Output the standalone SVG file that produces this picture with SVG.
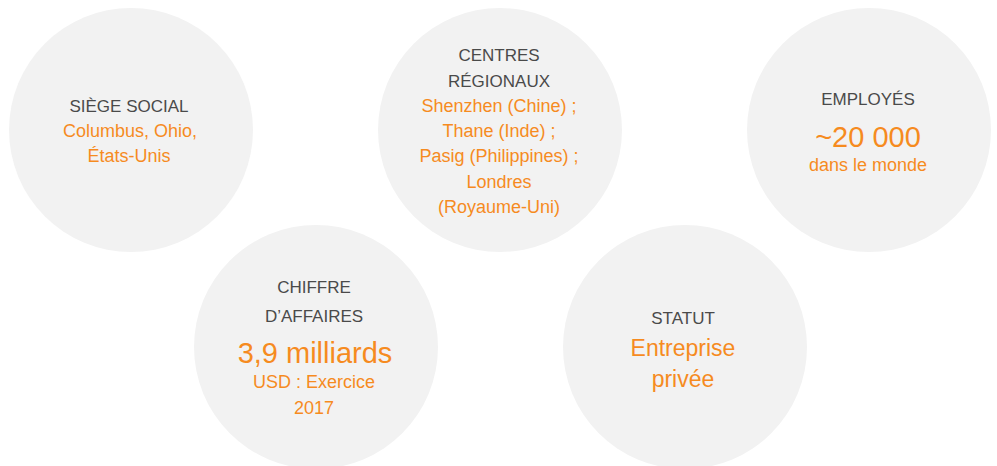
<svg xmlns="http://www.w3.org/2000/svg" width="997" height="466" viewBox="0 0 997 466">
<style>
.bg{fill:#f2f2f2}
text{font-family:"Liberation Sans",Arial,sans-serif;text-anchor:middle}
.t{fill:#4a4a4a;font-size:17px}
.o{fill:#f68b1f;font-size:18px}
.b{fill:#f68b1f;font-size:29px}
.m{fill:#f68b1f;font-size:23px}
</style>
<rect width="997" height="466" fill="#ffffff"/>
<g id="siege">
<circle class="bg" cx="131" cy="130" r="122"/>
<text class="t" x="129" y="112">SIÈGE SOCIAL</text>
<text class="o" x="130" y="137">Columbus, Ohio,</text>
<text class="o" x="129" y="162">États-Unis</text>
</g>
<g id="centres">
<circle class="bg" cx="500" cy="130" r="122"/>
<text class="t" x="499" y="61">CENTRES</text>
<text class="t" x="499" y="87">RÉGIONAUX</text>
<text class="o" x="499" y="112">Shenzhen (Chine) ;</text>
<text class="o" x="499" y="137">Thane (Inde) ;</text>
<text class="o" x="499" y="162">Pasig (Philippines) ;</text>
<text class="o" x="499" y="188">Londres</text>
<text class="o" x="499" y="213">(Royaume-Uni)</text>
</g>
<g id="employes">
<circle class="bg" cx="869" cy="130" r="122"/>
<text class="t" x="868" y="105">EMPLOYÉS</text>
<text class="b" x="868" y="147">~20 000</text>
<text class="o" x="868" y="171">dans le monde</text>
</g>
<g id="chiffre">
<circle class="bg" cx="316" cy="347" r="122"/>
<text class="t" x="314" y="293">CHIFFRE</text>
<text class="t" x="314" y="322">D’AFFAIRES</text>
<text class="b" x="315" y="363">3,9 milliards</text>
<text class="o" x="314" y="388">USD : Exercice</text>
<text class="o" x="314" y="414">2017</text>
</g>
<g id="statut">
<circle class="bg" cx="685" cy="347" r="122"/>
<text class="t" x="683" y="324">STATUT</text>
<text class="m" x="683" y="356">Entreprise</text>
<text class="m" x="683" y="387">privée</text>
</g>
<g id="connectors"></g>
</svg>
